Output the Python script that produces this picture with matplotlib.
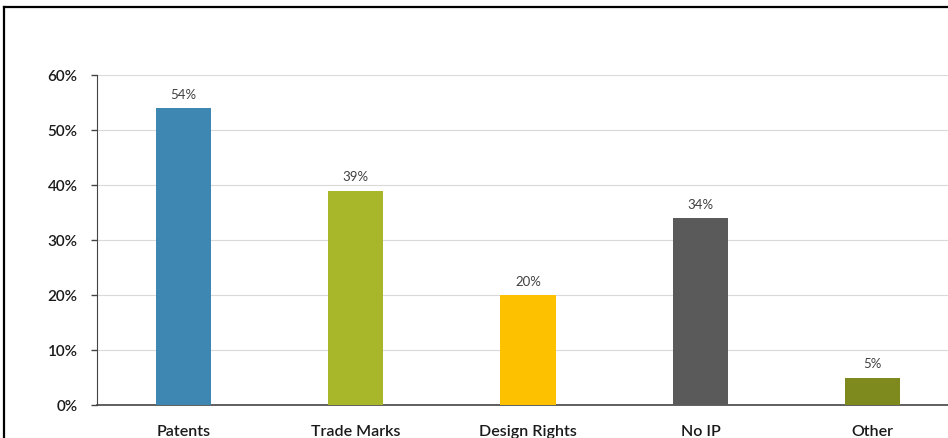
import matplotlib.pyplot as plt
from matplotlib.lines import Line2D
import numpy as np

categories = ['Patents', 'Trade Marks', 'Design Rights', 'No IP', 'Other']
shares = [54, 39, 20, 34, 5]
bar_colors = ['#3f87b3', '#a8b72a', '#fec100', '#5a5a5a', '#7e8a1d']
y_ticks = [0, 10, 20, 30, 40, 50, 60]

plt.rcParams['font.family'] = ['Lato', 'DejaVu Sans']

fig = plt.figure(figsize=(9.48, 4.39), dpi=100, facecolor='white')

# frame around the chart area (left and top edges)
fig.add_artist(Line2D([4/948, 4/948], [0, 1 - 8/439], transform=fig.transFigure,
                      color='black', lw=1.6))
fig.add_artist(Line2D([4/948, 1], [1 - 8/439, 1 - 8/439], transform=fig.transFigure,
                      color='black', lw=1.6))

ax = fig.add_axes([97/948, 33/439, 862/948, 330/439])
x = np.arange(len(categories))
bars = ax.bar(x, shares, width=0.32, color=bar_colors, zorder=3)

for rect, v in zip(bars, shares):
    ax.annotate(f'{v}%', (rect.get_x() + rect.get_width()/2, v),
                xytext=(0, 6), textcoords='offset points',
                ha='center', va='bottom', fontsize=9.5, color='#404040')

ax.set_xlim(-0.5, len(categories) - 0.5)
ax.set_ylim(0, 60)
ax.set_yticks(y_ticks)
ax.set_yticklabels([f'{t}%' for t in y_ticks], fontsize=11, color='#1a1a1a',
                   fontweight='semibold')
ax.set_xticks(x)
ax.set_xticklabels(categories, fontsize=11.5, color='#1a1a1a', fontweight='semibold')
ax.tick_params(axis='x', length=0, pad=14)
ax.tick_params(axis='y', length=4, width=1, color='#444444', pad=10)

ax.yaxis.grid(True, color='#d9d9d9', lw=0.8, zorder=0)
for side in ['top', 'right']:
    ax.spines[side].set_visible(False)
ax.spines['left'].set_color('#444444')
ax.spines['bottom'].set_color('#444444')
ax.spines['bottom'].set_linewidth(1.2)

fig.savefig('out.png', dpi=100)
